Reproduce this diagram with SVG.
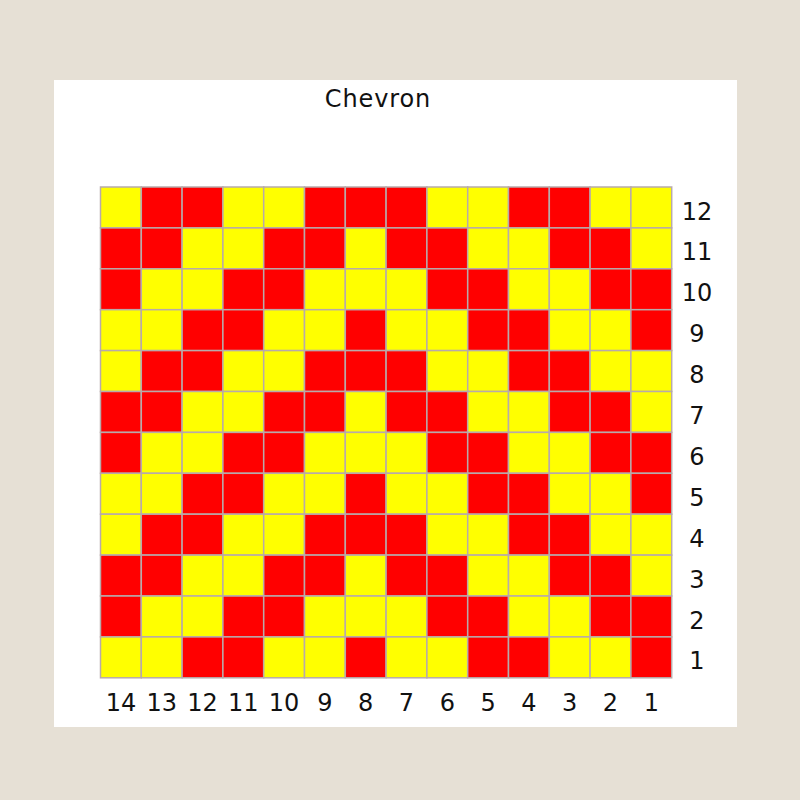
<svg xmlns="http://www.w3.org/2000/svg" xmlns:xlink="http://www.w3.org/1999/xlink" width="800" height="800" viewBox="0 0 800 800">
<style>
text{font-family:"DejaVu Sans",Verdana,sans-serif;fill:#111;font-size:24px;text-anchor:middle}
#title{letter-spacing:0.9px}
rect.c{width:40.8px;height:40.9px;stroke:#b8aaaa;stroke-width:1.5}
.Y{fill:#ffff00}
.R{fill:#ff0000}
</style>
<defs>
<g id="rowA"><rect class="c Y" x="100.5" width="40.8" height="40.9"/><rect class="c R" x="141.3" width="40.8" height="40.9"/><rect class="c R" x="182.1" width="40.8" height="40.9"/><rect class="c Y" x="222.9" width="40.8" height="40.9"/><rect class="c Y" x="263.7" width="40.8" height="40.9"/><rect class="c R" x="304.5" width="40.8" height="40.9"/><rect class="c R" x="345.3" width="40.8" height="40.9"/><rect class="c R" x="386.1" width="40.8" height="40.9"/><rect class="c Y" x="426.9" width="40.8" height="40.9"/><rect class="c Y" x="467.7" width="40.8" height="40.9"/><rect class="c R" x="508.5" width="40.8" height="40.9"/><rect class="c R" x="549.3" width="40.8" height="40.9"/><rect class="c Y" x="590.1" width="40.8" height="40.9"/><rect class="c Y" x="630.9" width="40.8" height="40.9"/></g>
<g id="rowB"><rect class="c R" x="100.5" width="40.8" height="40.9"/><rect class="c R" x="141.3" width="40.8" height="40.9"/><rect class="c Y" x="182.1" width="40.8" height="40.9"/><rect class="c Y" x="222.9" width="40.8" height="40.9"/><rect class="c R" x="263.7" width="40.8" height="40.9"/><rect class="c R" x="304.5" width="40.8" height="40.9"/><rect class="c Y" x="345.3" width="40.8" height="40.9"/><rect class="c R" x="386.1" width="40.8" height="40.9"/><rect class="c R" x="426.9" width="40.8" height="40.9"/><rect class="c Y" x="467.7" width="40.8" height="40.9"/><rect class="c Y" x="508.5" width="40.8" height="40.9"/><rect class="c R" x="549.3" width="40.8" height="40.9"/><rect class="c R" x="590.1" width="40.8" height="40.9"/><rect class="c Y" x="630.9" width="40.8" height="40.9"/></g>
<g id="rowC"><rect class="c R" x="100.5" width="40.8" height="40.9"/><rect class="c Y" x="141.3" width="40.8" height="40.9"/><rect class="c Y" x="182.1" width="40.8" height="40.9"/><rect class="c R" x="222.9" width="40.8" height="40.9"/><rect class="c R" x="263.7" width="40.8" height="40.9"/><rect class="c Y" x="304.5" width="40.8" height="40.9"/><rect class="c Y" x="345.3" width="40.8" height="40.9"/><rect class="c Y" x="386.1" width="40.8" height="40.9"/><rect class="c R" x="426.9" width="40.8" height="40.9"/><rect class="c R" x="467.7" width="40.8" height="40.9"/><rect class="c Y" x="508.5" width="40.8" height="40.9"/><rect class="c Y" x="549.3" width="40.8" height="40.9"/><rect class="c R" x="590.1" width="40.8" height="40.9"/><rect class="c R" x="630.9" width="40.8" height="40.9"/></g>
<g id="rowD"><rect class="c Y" x="100.5" width="40.8" height="40.9"/><rect class="c Y" x="141.3" width="40.8" height="40.9"/><rect class="c R" x="182.1" width="40.8" height="40.9"/><rect class="c R" x="222.9" width="40.8" height="40.9"/><rect class="c Y" x="263.7" width="40.8" height="40.9"/><rect class="c Y" x="304.5" width="40.8" height="40.9"/><rect class="c R" x="345.3" width="40.8" height="40.9"/><rect class="c Y" x="386.1" width="40.8" height="40.9"/><rect class="c Y" x="426.9" width="40.8" height="40.9"/><rect class="c R" x="467.7" width="40.8" height="40.9"/><rect class="c R" x="508.5" width="40.8" height="40.9"/><rect class="c Y" x="549.3" width="40.8" height="40.9"/><rect class="c Y" x="590.1" width="40.8" height="40.9"/><rect class="c R" x="630.9" width="40.8" height="40.9"/></g>
</defs>
<rect x="0" y="0" width="800" height="800" fill="#e6e0d5"/>
<rect x="54" y="80" width="683" height="647" fill="#ffffff"/>
<text id="title" x="378" y="106.5">Chevron</text>
<g id="grid">
<use id="row12" xlink:href="#rowA" y="187"/>
<use id="row11" xlink:href="#rowB" y="227.9"/>
<use id="row10" xlink:href="#rowC" y="268.8"/>
<use id="row9" xlink:href="#rowD" y="309.7"/>
<use id="row8" xlink:href="#rowA" y="350.6"/>
<use id="row7" xlink:href="#rowB" y="391.5"/>
<use id="row6" xlink:href="#rowC" y="432.4"/>
<use id="row5" xlink:href="#rowD" y="473.3"/>
<use id="row4" xlink:href="#rowA" y="514.2"/>
<use id="row3" xlink:href="#rowB" y="555.1"/>
<use id="row2" xlink:href="#rowC" y="596"/>
<use id="row1" xlink:href="#rowD" y="636.9"/>
</g>
<g id="row-labels">
<text x="697" y="219.5">12</text>
<text x="697" y="260.4">11</text>
<text x="697" y="301.3">10</text>
<text x="697" y="342.2">9</text>
<text x="697" y="383.1">8</text>
<text x="697" y="424">7</text>
<text x="697" y="464.9">6</text>
<text x="697" y="505.8">5</text>
<text x="697" y="546.7">4</text>
<text x="697" y="587.6">3</text>
<text x="697" y="628.5">2</text>
<text x="697" y="669.4">1</text>
</g>
<g id="col-labels">
<text x="120.9" y="710.8">14</text>
<text x="161.7" y="710.8">13</text>
<text x="202.5" y="710.8">12</text>
<text x="243.3" y="710.8">11</text>
<text x="284.1" y="710.8">10</text>
<text x="324.9" y="710.8">9</text>
<text x="365.7" y="710.8">8</text>
<text x="406.5" y="710.8">7</text>
<text x="447.3" y="710.8">6</text>
<text x="488.1" y="710.8">5</text>
<text x="528.9" y="710.8">4</text>
<text x="569.7" y="710.8">3</text>
<text x="610.5" y="710.8">2</text>
<text x="651.3" y="710.8">1</text>
</g>
<g id="connectors"/>
</svg>
